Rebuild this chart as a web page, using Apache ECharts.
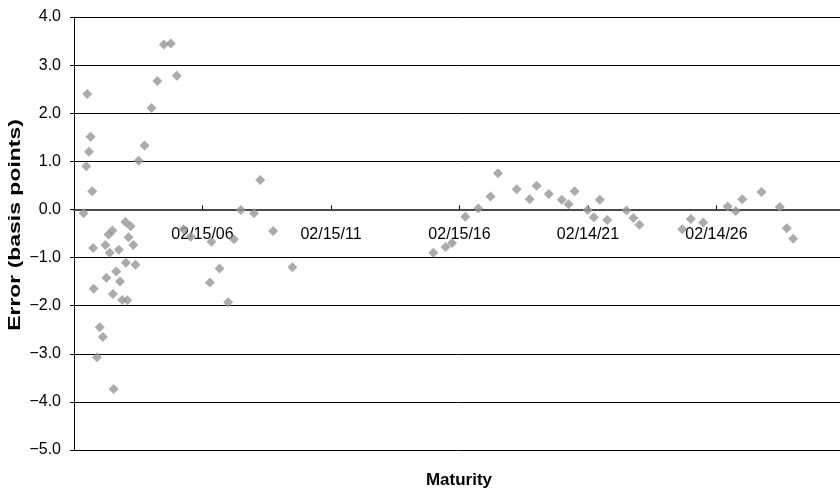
<!DOCTYPE html>
<html>
<head>
<meta charset="utf-8">
<script src="https://cdn.jsdelivr.net/npm/echarts@6/dist/echarts.min.js"></script>
<style>
  html, body { margin: 0; padding: 0; background: #ffffff; }
  #chart { width: 840px; height: 489px; }
</style>
</head>
<body>
<div id="chart"></div>
<script>
// Bond maturities (ISO dates) and fitted-curve pricing error in basis points
const maturities = [
  '2001-07-01', '2001-08-08', '2001-08-22', '2001-09-15', '2001-10-08', '2001-11-01',
  '2001-11-15', '2001-11-22', '2002-01-08', '2002-02-15', '2002-04-01', '2002-05-08',
  '2002-05-22', '2002-06-22', '2002-07-08', '2002-08-15', '2002-08-22', '2002-09-01',
  '2002-10-08', '2002-11-15', '2002-12-01', '2003-01-01', '2003-02-15', '2003-02-22',
  '2003-03-15', '2003-04-01', '2003-05-01', '2003-06-08', '2003-07-08', '2003-08-22',
  '2003-11-15', '2004-02-22', '2004-05-15', '2004-08-15', '2004-11-22', '2005-02-15',
  '2005-05-22', '2005-09-01', '2006-06-01', '2006-06-22', '2006-10-15', '2007-02-15',
  '2007-05-08', '2007-08-15', '2008-02-15', '2008-05-15', '2008-11-15', '2009-08-15',
  '2015-02-08', '2015-08-01', '2015-11-01', '2016-05-08', '2016-11-08', '2017-05-01',
  '2017-08-15', '2018-05-08', '2018-11-08', '2019-02-15', '2019-08-08', '2020-02-08',
  '2020-05-15', '2020-08-08', '2021-02-08', '2021-05-08', '2021-08-01', '2021-11-15',
  '2022-08-15', '2022-11-22', '2023-02-15', '2024-10-15', '2025-02-15', '2025-08-08',
  '2026-07-22', '2026-11-15', '2027-02-15', '2027-11-15', '2028-08-01', '2028-11-08',
  '2029-02-08'
];
const errors = [
  -0.08, 0.90, 2.40, 1.20, 1.51, 0.38,
  -0.80, -1.65, -3.07, -2.45, -2.65, -0.74,
  -1.42, -0.52, -0.90, -0.44, -1.76, -3.73,
  -1.29, -0.84, -1.50, -1.88, -0.26, -1.11,
  -1.89, -0.58, -0.35, -0.74, -1.15, 1.01,
  1.33, 2.11, 2.67, 3.43, 3.45, 2.78,
  -0.41, -0.57, -1.52, -0.67, -1.23, -1.93,
  -0.62, -0.01, -0.08, 0.61, -0.45, -1.20,
  -0.90, -0.78, -0.70, -0.15, 0.02, 0.27,
  0.75, 0.42, 0.21, 0.49, 0.32, 0.20,
  0.11, 0.38, -0.01, -0.16, 0.20, -0.22,
  -0.02, -0.18, -0.32, -0.41, -0.20, -0.27,
  0.06, -0.03, 0.21, 0.36, 0.05, -0.39,
  -0.61
];

// Date axis: major unit of 1826 days counted from the axis start date
const axisStart = '2001-02-15';
const axisEnd = '2031-02-14';
const majorUnitDays = 1826;

const DAY_MS = 86400000;
function toUTC(iso) {
  const [y, m, d] = iso.split('-').map(Number);
  return Date.UTC(y, m - 1, d);
}
const originMs = toUTC(axisStart);
function dayOffset(iso) { return Math.round((toUTC(iso) - originMs) / DAY_MS); }
function pad2(n) { return (n < 10 ? '0' : '') + n; }
function formatDate(days) {
  const d = new Date(originMs + days * DAY_MS);
  return pad2(d.getUTCMonth() + 1) + '/' + pad2(d.getUTCDate()) + '/' + pad2(d.getUTCFullYear() % 100);
}
function formatError(v) {
  const s = Math.abs(v).toFixed(1);
  return (v < -1e-9 ? '\u2212' : '') + s;
}

const points = maturities.map((m, i) => [dayOffset(m), errors[i]]);
const FONT = '"Liberation Sans", Arial, Helvetica, sans-serif';

const yMin = -5, yMax = 4;
const gridTop = 17, gridHeight = 433;
// the date axis sits on the zero line of the error axis
const zeroOffset = -gridHeight * (0 - yMin) / (yMax - yMin);

const chart = echarts.init(document.getElementById('chart'), null, { renderer: 'canvas' });
chart.setOption({
  animation: false,
  backgroundColor: '#ffffff',
  grid: { left: 74, top: gridTop, width: 771, height: gridHeight, containLabel: false, outerBoundsMode: 'none' },
  xAxis: {
    type: 'value',
    position: 'bottom',
    offset: zeroOffset,
    min: 0,
    max: dayOffset(axisEnd),
    interval: majorUnitDays,
    axisLine: { onZero: false, lineStyle: { color: '#4a4a4a', width: 2 } },
    axisTick: { show: true, inside: true, length: 4, lineStyle: { color: '#000000', width: 1 } },
    axisLabel: {
      showMinLabel: false,
      showMaxLabel: false,
      margin: 17,
      fontFamily: FONT,
      fontSize: 16,
      color: '#000000',
      formatter: formatDate
    },
    splitLine: { show: false }
  },
  yAxis: {
    type: 'value',
    min: yMin,
    max: yMax,
    interval: 1,
    axisLine: { show: true, lineStyle: { color: '#000000', width: 1 } },
    axisTick: { show: true, inside: false, length: 4, lineStyle: { color: '#000000', width: 1 } },
    axisLabel: {
      margin: 13,
      fontFamily: FONT,
      fontSize: 16,
      color: '#000000',
      formatter: formatError
    },
    splitLine: { show: true, lineStyle: { color: '#000000', width: 1 } }
  },
  graphic: [
    {
      type: 'text',
      x: 15,
      y: 225,
      rotation: Math.PI / 2,
      scaleX: 1.35,
      style: {
        text: 'Error (basis points)',
        font: 'bold 17px ' + FONT,
        fill: '#000000',
        textAlign: 'center',
        textVerticalAlign: 'middle'
      }
    },
    {
      type: 'text',
      x: 459,
      y: 480,
      style: {
        text: 'Maturity',
        font: 'bold 17px ' + FONT,
        fill: '#000000',
        textAlign: 'center',
        textVerticalAlign: 'middle'
      }
    }
  ],
  series: [{
    type: 'scatter',
    data: points,
    symbol: 'diamond',
    symbolSize: 10,
    itemStyle: { color: '#969696' },
    z: 5
  }]
});
</script>
</body>
</html>
